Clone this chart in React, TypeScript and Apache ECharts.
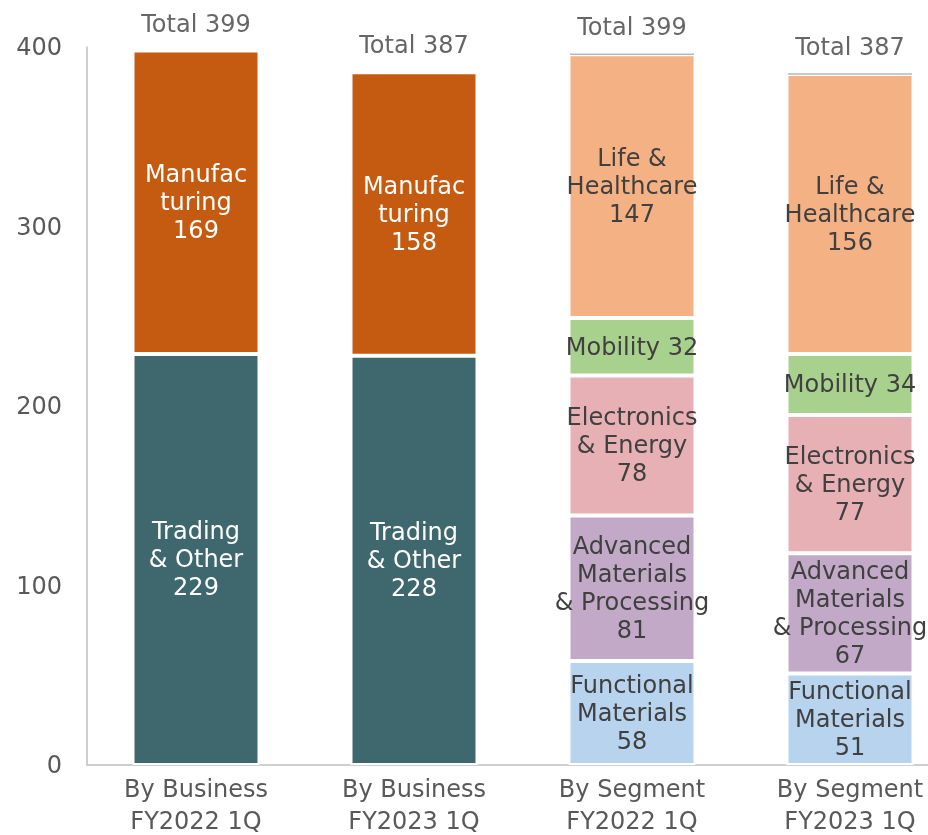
import React, { useEffect, useRef } from "react";
import * as echarts from "echarts";

const categories = ["By Business\nFY2022 1Q", "By Business\nFY2023 1Q", "By Segment\nFY2022 1Q", "By Segment\nFY2023 1Q"];
const tradingOther = [229, 228, null, null];
const manufacturing = [169, 158, null, null];
const functionalMaterials = [null, null, 58, 51];
const advancedMaterials = [null, null, 81, 67];
const electronicsEnergy = [null, null, 78, 77];
const mobility = [null, null, 32, 34];
const lifeHealthcare = [null, null, 147, 156];
const totals = [399, 387, 399, 387];

const FONT = "'DejaVu Sans', sans-serif";
const FS = 24;

export default function App() {
  const ref = useRef<HTMLDivElement>(null);
  useEffect(() => {
    if (!ref.current) return;
    const chart = echarts.init(ref.current, null, { renderer: "svg" });
    const allSeries = [tradingOther, manufacturing, functionalMaterials, advancedMaterials, electronicsEnergy, mobility, lifeHealthcare];
    const stackTops = categories.map((_, i) => allSeries.reduce((s, arr) => s + (arr[i] ?? 0), 0));

    const barSeries = (name: string, data: (number | null)[], color: string, labelColor: string, fmt: string) => ({
      name,
      type: "bar",
      stack: "a",
      data: data.map((v) => (v == null ? "-" : v)),
      barWidth: 127,
      itemStyle: { color, borderColor: "#ffffff", borderWidth: 2 },
      label: {
        show: true,
        position: "inside",
        formatter: (p: any) => fmt.replace("{v}", String(p.value)),
        color: labelColor,
        fontFamily: FONT,
        fontSize: FS,
        lineHeight: 28,
      },
    });

    chart.setOption({
      animation: false,
      grid: { left: 87, top: 47, width: 872, height: 718, outerBoundsMode: "none", containLabel: false },
      xAxis: {
        type: "category",
        data: categories,
        axisLine: { show: true, lineStyle: { color: "#bfbfbf", width: 1.5 } },
        axisTick: { show: false },
        axisLabel: { color: "#595959", fontFamily: FONT, fontSize: FS, lineHeight: 32, margin: 8, interval: 0 },
      },
      yAxis: {
        type: "value",
        min: 0,
        max: 400,
        interval: 100,
        axisLine: { show: true, lineStyle: { color: "#bfbfbf", width: 1.5 } },
        axisTick: { show: false },
        splitLine: { show: false },
        axisLabel: { color: "#595959", fontFamily: FONT, fontSize: FS, margin: 25 },
      },
      series: [
        barSeries("Trading & Other", tradingOther, "#3e686e", "#ffffff", "Trading\n& Other\n{v}"),
        barSeries("Manufacturing", manufacturing, "#c55a11", "#ffffff", "Manufac\nturing\n{v}"),
        barSeries("Functional Materials", functionalMaterials, "#b7d3ee", "#404040", "Functional\nMaterials\n{v}"),
        barSeries("Advanced Materials & Processing", advancedMaterials, "#c2a9c8", "#404040", "Advanced\nMaterials\n& Processing\n{v}"),
        barSeries("Electronics & Energy", electronicsEnergy, "#e6b0b5", "#404040", "Electronics\n& Energy\n{v}"),
        barSeries("Mobility", mobility, "#a9d18e", "#404040", "Mobility {v}"),
        barSeries("Life & Healthcare", lifeHealthcare, "#f4b183", "#404040", "Life &\nHealthcare\n{v}"),
        {
          name: "Total",
          type: "scatter",
          z: 5,
          symbol: "rect",
          symbolSize: [124, 1.5],
          data: stackTops.map((v, i) => ({
            value: v,
            itemStyle: { color: i >= 2 ? "#a6a6a6" : "rgba(0,0,0,0)" },
          })),
          label: {
            show: true,
            position: "top",
            distance: 14,
            formatter: (p: any) => "Total " + totals[p.dataIndex],
            color: "#404040",
            fontFamily: FONT,
            fontSize: FS,
          },
        },
      ],
    });
    return () => chart.dispose();
  }, []);
  return <div ref={ref} style={{ position: "fixed", left: 0, top: 0, width: 928, height: 835 }} />;
}
